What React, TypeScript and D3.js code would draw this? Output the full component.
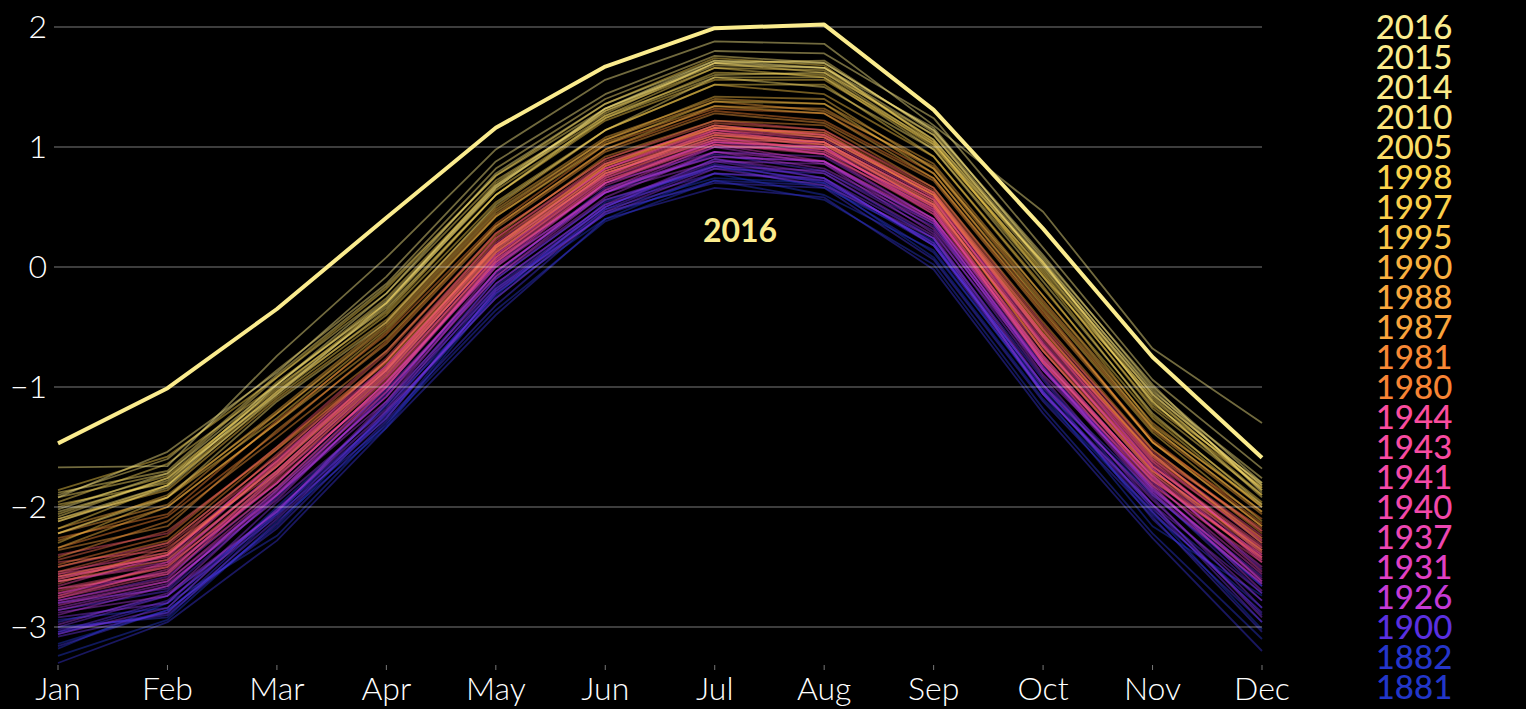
import React, { useEffect, useRef } from 'react'
import * as d3 from 'd3'

const months = ['Jan', 'Feb', 'Mar', 'Apr', 'May', 'Jun', 'Jul', 'Aug', 'Sep', 'Oct', 'Nov', 'Dec']
const yTicks = [2, 1, 0, -1, -2, -3]
const legendYears = [2016, 2015, 2014, 2010, 2005, 1998, 1997, 1995, 1990, 1988, 1987, 1981, 1980,
  1944, 1943, 1941, 1940, 1937, 1931, 1926, 1900, 1882, 1881]

// year -> colour stops
const colorYears = [1880, 1900, 1926, 1931, 1944, 1960, 1980, 1990, 1998, 2016]
const colorStops = ['#1f36c8', '#5a30e0', '#c43ad6', '#e040c4', '#fa4c9e', '#ee5468', '#f88434', '#f9b040', '#fbd24c', '#fbec8e']

// monthly values, Jan..Dec
const early: [number, number[]][] = [
  [1880, [-3.14, -2.86, -2.16, -1.22, -0.26, 0.48, 0.74, 0.70, 0.08, -1.10, -2.04, -3.02]],
  [1881, [-3.24, -2.94, -2.12, -1.34, -0.22, 0.40, 0.78, 0.60, 0.14, -1.06, -2.16, -2.74]],
  [1882, [-2.94, -2.84, -2.00, -1.16, -0.24, 0.54, 0.84, 0.66, 0.22, -1.02, -1.90, -2.66]],
  [1884, [-3.18, -2.80, -2.24, -1.30, -0.36, 0.38, 0.72, 0.56, 0.02, -1.18, -2.22, -3.10]],
  [1886, [-3.00, -2.92, -2.06, -1.32, -0.18, 0.44, 0.72, 0.68, 0.12, -1.04, -2.06, -2.84]],
  [1888, [-3.30, -2.96, -2.28, -1.34, -0.40, 0.40, 0.66, 0.58, -0.02, -1.22, -2.26, -3.20]],
  [1890, [-3.04, -2.88, -2.04, -1.26, -0.16, 0.50, 0.86, 0.70, 0.18, -0.98, -2.10, -2.96]],
  [1892, [-3.16, -2.86, -2.18, -1.28, -0.32, 0.46, 0.70, 0.66, 0.06, -1.12, -2.08, -3.04]],
  [1894, [-2.96, -2.74, -2.06, -1.14, -0.10, 0.56, 0.82, 0.78, 0.24, -0.94, -2.02, -2.78]],
  [1896, [-3.06, -2.80, -2.02, -1.24, -0.20, 0.50, 0.90, 0.74, 0.18, -0.98, -1.88, -2.72]],
  [1898, [-3.02, -2.90, -2.14, -1.20, -0.14, 0.52, 0.78, 0.72, 0.20, -1.04, -1.98, -2.90]],
]

const turnOfCentury: [number, number[]][] = [
  [1900, [-2.86, -2.70, -1.92, -1.06, -0.04, 0.62, 0.94, 0.80, 0.34, -0.86, -1.84, -2.66]],
  [1902, [-3.04, -2.78, -2.08, -1.22, -0.22, 0.48, 0.84, 0.72, 0.20, -1.04, -2.04, -2.88]],
  [1904, [-3.08, -2.88, -2.10, -1.26, -0.20, 0.44, 0.78, 0.74, 0.18, -1.06, -2.00, -2.96]],
  [1906, [-2.80, -2.68, -1.86, -1.02, -0.06, 0.66, 0.92, 0.88, 0.36, -0.82, -1.86, -2.58]],
  [1908, [-3.00, -2.74, -2.04, -1.14, -0.18, 0.50, 0.88, 0.74, 0.24, -1.00, -1.92, -2.84]],
  [1910, [-2.92, -2.80, -1.96, -1.18, -0.10, 0.56, 0.84, 0.80, 0.30, -0.92, -1.98, -2.72]],
  [1912, [-3.06, -2.84, -2.02, -1.20, -0.26, 0.46, 0.82, 0.68, 0.24, -1.06, -1.98, -2.92]],
  [1914, [-2.78, -2.58, -1.84, -0.98, 0.04, 0.70, 0.96, 0.92, 0.40, -0.78, -1.74, -2.52]],
  [1916, [-2.98, -2.72, -2.04, -1.12, -0.14, 0.52, 0.90, 0.78, 0.26, -0.98, -1.94, -2.78]],
  [1918, [-2.88, -2.74, -1.90, -1.12, -0.04, 0.62, 0.88, 0.86, 0.28, -0.86, -1.90, -2.64]],
  [1920, [-2.84, -2.64, -1.94, -1.04, -0.08, 0.58, 0.96, 0.82, 0.36, -0.90, -1.82, -2.70]],
  [1922, [-2.90, -2.66, -1.88, -1.08, 0.00, 0.64, 0.92, 0.88, 0.32, -0.84, -1.86, -2.60]],
  [1924, [-2.80, -2.62, -1.90, -1.00, 0.02, 0.62, 1.00, 0.86, 0.38, -0.86, -1.78, -2.62]],
]

const interwar: [number, number[]][] = [
  [1926, [-2.86, -2.66, -1.90, -1.08, -0.08, 0.62, 0.96, 0.88, 0.38, -0.84, -1.88, -2.64]],
  [1928, [-2.72, -2.54, -1.80, -0.96, 0.02, 0.70, 1.04, 0.94, 0.40, -0.74, -1.76, -2.50]],
  [1930, [-2.78, -2.60, -1.74, -1.00, 0.06, 0.68, 1.00, 0.98, 0.48, -0.76, -1.80, -2.56]],
  [1931, [-2.62, -2.46, -1.70, -0.88, 0.10, 0.78, 1.08, 0.96, 0.52, -0.66, -1.68, -2.42]],
  [1932, [-2.82, -2.62, -1.86, -1.04, -0.04, 0.64, 1.02, 0.88, 0.40, -0.80, -1.84, -2.62]],
  [1934, [-2.68, -2.56, -1.72, -0.92, 0.08, 0.74, 1.04, 1.00, 0.44, -0.70, -1.72, -2.44]],
  [1936, [-2.76, -2.52, -1.80, -0.96, 0.00, 0.70, 1.06, 0.94, 0.46, -0.78, -1.74, -2.54]],
  [1937, [-2.58, -2.44, -1.64, -0.86, 0.14, 0.80, 1.10, 1.04, 0.56, -0.62, -1.64, -2.38]],
  [1938, [-2.60, -2.40, -1.66, -0.82, 0.16, 0.76, 1.14, 1.02, 0.54, -0.58, -1.66, -2.36]],
  [1940, [-2.74, -2.46, -1.72, -0.90, 0.12, 0.78, 1.06, 1.04, 0.50, -0.64, -1.70, -2.34]],
  [1941, [-2.66, -2.40, -1.62, -0.84, 0.18, 0.82, 1.14, 1.06, 0.58, -0.58, -1.62, -2.40]],
  [1942, [-2.62, -2.48, -1.70, -0.86, 0.10, 0.76, 1.12, 1.00, 0.52, -0.66, -1.68, -2.46]],
  [1943, [-2.56, -2.42, -1.60, -0.82, 0.18, 0.82, 1.16, 1.08, 0.60, -0.56, -1.60, -2.30]],
  [1944, [-2.54, -2.38, -1.62, -0.78, 0.20, 0.86, 1.18, 1.10, 0.62, -0.52, -1.56, -2.28]],
]

const postwar: [number, number[]][] = [
  [1946, [-2.72, -2.48, -1.80, -0.96, 0.06, 0.72, 1.04, 1.00, 0.46, -0.78, -1.78, -2.40]],
  [1948, [-2.58, -2.40, -1.66, -0.86, 0.16, 0.82, 1.12, 1.04, 0.56, -0.64, -1.66, -2.32]],
  [1950, [-2.76, -2.56, -1.84, -1.00, 0.04, 0.70, 1.02, 0.94, 0.48, -0.80, -1.82, -2.46]],
  [1952, [-2.50, -2.30, -1.58, -0.78, 0.24, 0.86, 1.18, 1.10, 0.62, -0.56, -1.58, -2.24]],
  [1954, [-2.68, -2.50, -1.76, -0.92, 0.08, 0.74, 1.08, 0.98, 0.50, -0.74, -1.76, -2.42]],
  [1956, [-2.74, -2.54, -1.78, -0.98, 0.04, 0.72, 1.02, 0.96, 0.44, -0.80, -1.74, -2.44]],
  [1958, [-2.40, -2.22, -1.50, -0.70, 0.28, 0.90, 1.22, 1.14, 0.66, -0.48, -1.54, -2.20]],
  [1960, [-2.56, -2.32, -1.62, -0.84, 0.18, 0.84, 1.14, 1.08, 0.60, -0.60, -1.62, -2.28]],
  [1962, [-2.46, -2.36, -1.56, -0.76, 0.24, 0.88, 1.16, 1.12, 0.58, -0.56, -1.60, -2.26]],
  [1964, [-2.70, -2.50, -1.74, -0.94, 0.08, 0.76, 1.06, 0.98, 0.50, -0.76, -1.78, -2.42]],
  [1966, [-2.60, -2.40, -1.64, -0.84, 0.16, 0.80, 1.12, 1.04, 0.56, -0.66, -1.66, -2.34]],
  [1968, [-2.64, -2.34, -1.70, -0.88, 0.12, 0.78, 1.10, 1.02, 0.52, -0.68, -1.70, -2.36]],
  [1970, [-2.44, -2.20, -1.52, -0.72, 0.28, 0.90, 1.20, 1.14, 0.64, -0.50, -1.52, -2.20]],
  [1972, [-2.54, -2.30, -1.58, -0.78, 0.22, 0.84, 1.16, 1.10, 0.60, -0.58, -1.56, -2.18]],
  [1974, [-2.62, -2.44, -1.72, -0.90, 0.12, 0.78, 1.08, 1.02, 0.52, -0.70, -1.72, -2.38]],
  [1976, [-2.58, -2.38, -1.66, -0.86, 0.14, 0.80, 1.10, 1.04, 0.54, -0.70, -1.70, -2.36]],
]

const late20th: [number, number[]][] = [
  [1978, [-2.48, -2.24, -1.50, -0.78, 0.18, 0.86, 1.16, 1.12, 0.62, -0.52, -1.58, -2.26]],
  [1980, [-2.34, -2.08, -1.38, -0.62, 0.34, 0.98, 1.30, 1.22, 0.74, -0.38, -1.44, -2.14]],
  [1981, [-2.26, -2.06, -1.28, -0.56, 0.36, 1.02, 1.32, 1.28, 0.78, -0.34, -1.46, -2.10]],
  [1982, [-2.50, -2.28, -1.52, -0.80, 0.16, 0.84, 1.18, 1.08, 0.60, -0.54, -1.56, -2.30]],
  [1984, [-2.42, -2.12, -1.42, -0.70, 0.26, 0.92, 1.22, 1.18, 0.66, -0.46, -1.52, -2.22]],
  [1986, [-2.36, -2.16, -1.36, -0.64, 0.32, 0.96, 1.28, 1.20, 0.72, -0.40, -1.46, -2.16]],
  [1987, [-2.28, -2.00, -1.30, -0.54, 0.42, 1.04, 1.34, 1.32, 0.82, -0.30, -1.36, -2.06]],
  [1988, [-2.22, -1.98, -1.22, -0.50, 0.44, 1.06, 1.38, 1.30, 0.84, -0.28, -1.34, -2.04]],
  [1990, [-2.18, -1.92, -1.20, -0.46, 0.48, 1.08, 1.40, 1.36, 0.86, -0.24, -1.30, -2.00]],
]

const recent: [number, number[]][] = [
  [1992, [-2.34, -2.00, -1.30, -0.60, 0.34, 0.98, 1.34, 1.28, 0.74, -0.36, -1.46, -2.16]],
  [1994, [-2.22, -1.90, -1.22, -0.48, 0.46, 1.06, 1.42, 1.40, 0.82, -0.24, -1.34, -2.04]],
  [1995, [-2.10, -1.86, -1.10, -0.44, 0.50, 1.14, 1.52, 1.44, 0.92, -0.16, -1.32, -1.98]],
  [1996, [-2.30, -1.92, -1.26, -0.52, 0.42, 1.02, 1.38, 1.36, 0.78, -0.32, -1.38, -2.12]],
  [1997, [-2.12, -1.82, -1.04, -0.38, 0.60, 1.22, 1.56, 1.56, 1.02, -0.06, -1.16, -1.84]],
  [1998, [-1.86, -1.58, -0.92, -0.18, 0.76, 1.36, 1.74, 1.68, 1.04, -0.08, -1.24, -1.96]],
  [2000, [-2.18, -1.82, -1.08, -0.40, 0.54, 1.14, 1.52, 1.52, 0.92, -0.18, -1.26, -2.00]],
  [2001, [-2.00, -1.74, -1.02, -0.30, 0.64, 1.24, 1.62, 1.60, 1.00, -0.02, -1.12, -1.90]],
  [2002, [-1.96, -1.64, -0.98, -0.26, 0.68, 1.26, 1.66, 1.58, 1.04, -0.04, -1.18, -1.90]],
  [2003, [-1.98, -1.80, -0.96, -0.30, 0.70, 1.30, 1.66, 1.64, 1.06, 0.04, -1.10, -1.84]],
  [2004, [-2.06, -1.76, -1.00, -0.34, 0.60, 1.24, 1.58, 1.58, 0.98, -0.08, -1.08, -1.86]],
  [2005, [-1.92, -1.72, -0.92, -0.22, 0.72, 1.28, 1.70, 1.62, 1.10, 0.02, -1.06, -1.82]],
  [2006, [-2.08, -1.76, -1.06, -0.36, 0.60, 1.26, 1.60, 1.62, 1.02, 0.04, -1.14, -1.80]],
  [2007, [-1.88, -1.70, -0.90, -0.16, 0.76, 1.32, 1.68, 1.66, 1.06, 0.00, -1.12, -1.92]],
  [2008, [-2.22, -1.92, -1.12, -0.46, 0.52, 1.14, 1.58, 1.50, 0.98, -0.12, -1.22, -1.98]],
  [2009, [-2.04, -1.78, -1.04, -0.32, 0.66, 1.30, 1.70, 1.72, 1.12, 0.04, -1.02, -1.86]],
  [2010, [-1.90, -1.60, -0.86, -0.14, 0.82, 1.40, 1.76, 1.70, 1.14, 0.08, -0.98, -1.88]],
  [2011, [-2.12, -1.84, -1.06, -0.30, 0.68, 1.32, 1.70, 1.66, 1.10, 0.02, -1.06, -1.82]],
  [2012, [-2.10, -1.82, -0.98, -0.28, 0.66, 1.32, 1.72, 1.66, 1.16, 0.06, -1.04, -1.76]],
  [2013, [-2.02, -1.72, -0.98, -0.22, 0.78, 1.36, 1.72, 1.70, 1.14, 0.10, -1.00, -1.80]],
  [2014, [-1.92, -1.54, -0.88, -0.08, 0.88, 1.44, 1.80, 1.78, 1.24, 0.16, -0.94, -1.68]],
  [2015, [-1.67, -1.66, -0.74, 0.08, 0.98, 1.56, 1.88, 1.86, 1.18, 0.46, -0.68, -1.30]],
]

const year2016 = [-1.47, -1.01, -0.35, 0.41, 1.16, 1.67, 1.99, 2.02, 1.31, 0.32, -0.75, -1.59]

function App() {
  const svgRef = useRef(null)
  const W = 1526
  const H = 709

  useEffect(() => {
    const svg = d3.select(svgRef.current)
    svg.selectAll('*').remove()

    const x = d3.scalePoint().domain(months).range([58, 1262])
    const y = d3.scaleLinear().domain([-3, 2]).range([627, 27])
    const color = d3.scaleLinear<string>().domain(colorYears).range(colorStops).interpolate(d3.interpolateRgb)
    const font = 'Lato, "Open Sans", sans-serif'

    const line = d3.line<number>()
      .x((d, i) => x(months[i]))
      .y(d => y(d))

    const all = [...early, ...turnOfCentury, ...interwar, ...postwar, ...late20th, ...recent]

    svg.append('g')
      .selectAll('path')
      .data(all)
      .join('path')
      .attr('d', d => line(d[1]))
      .attr('fill', 'none')
      .attr('stroke', d => color(d[0]))
      .attr('stroke-width', 1.8)
      .attr('stroke-opacity', 0.45)
      .attr('stroke-linejoin', 'round')

    // gridlines sit on top of the year lines, semi transparent
    svg.append('g')
      .selectAll('line')
      .data(yTicks)
      .join('line')
      .attr('x1', 54).attr('x2', 1262)
      .attr('y1', d => y(d)).attr('y2', d => y(d))
      .attr('stroke', '#fff').attr('stroke-opacity', 0.24).attr('stroke-width', 2)

    svg.append('g')
      .selectAll('text')
      .data(yTicks)
      .join('text')
      .attr('x', 47).attr('y', d => y(d)).attr('dy', '0.35em')
      .attr('text-anchor', 'end')
      .attr('fill', '#fff').attr('font-family', font).attr('font-weight', 300).attr('font-size', 32)
      .text(d => (d < 0 ? '\u2212' + Math.abs(d) : String(d)))

    // month ticks + labels
    const xa = svg.append('g')
    xa.selectAll('line')
      .data(months)
      .join('line')
      .attr('x1', d => x(d)).attr('x2', d => x(d))
      .attr('y1', 665).attr('y2', 670)
      .attr('stroke', '#777').attr('stroke-width', 1)
    xa.selectAll('text')
      .data(months)
      .join('text')
      .attr('x', d => x(d)).attr('y', 700)
      .attr('text-anchor', 'middle')
      .attr('fill', '#fff').attr('font-family', font).attr('font-weight', 300).attr('font-size', 32)
      .text(d => d)

    svg.append('path')
      .datum(year2016)
      .attr('d', line)
      .attr('fill', 'none')
      .attr('stroke', color(2016))
      .attr('stroke-width', 4)
      .attr('stroke-linejoin', 'round')

    svg.append('text')
      .attr('x', 740).attr('y', 242)
      .attr('text-anchor', 'middle')
      .attr('fill', color(2016))
      .attr('font-family', font).attr('font-weight', 700).attr('font-size', 32)
      .text('2016')

    // legend, 30px apart like the original
    svg.append('g')
      .selectAll('text')
      .data(legendYears)
      .join('text')
      .attr('x', 1414).attr('y', (d, i) => 27 + i * 30).attr('dy', '0.36em')
      .attr('text-anchor', 'middle')
      .attr('fill', d => color(d))
      .attr('font-family', font).attr('font-weight', 500).attr('font-size', 33)
      .text(d => d)
  }, [])

  return (
    <div style={{ position: 'fixed', left: 0, top: 0, width: W, height: H, background: '#000' }}>
      <svg ref={svgRef} width={W} height={H} style={{ display: 'block' }}></svg>
    </div>
  )
}
export default App
